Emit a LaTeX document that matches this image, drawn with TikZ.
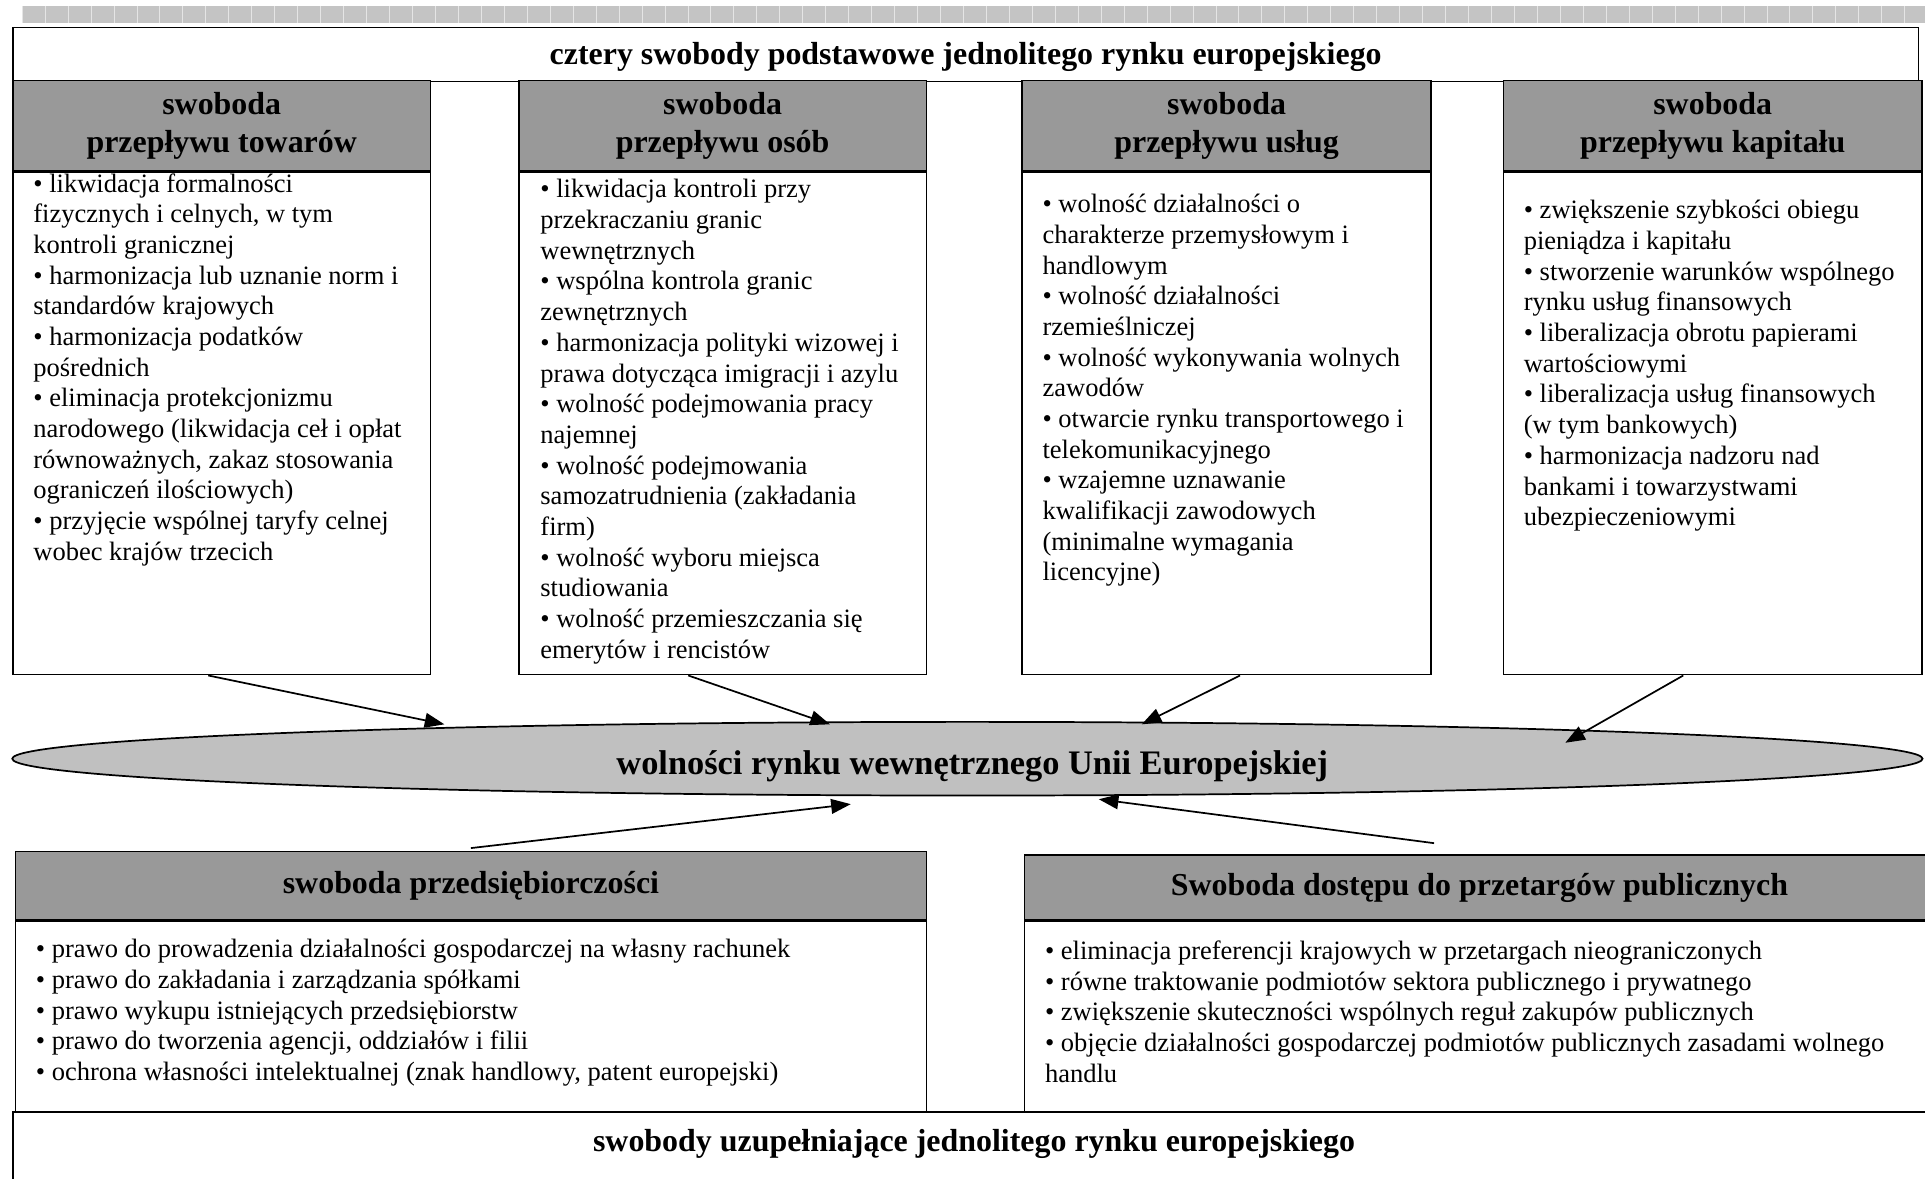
\documentclass[tikz,border=0pt]{standalone}
\usepackage{fontspec}
\setmainfont{Liberation Serif}
\usepackage{tikz}
\usetikzlibrary{positioning, arrows.meta, shapes.geometric}

\definecolor{headgray}{HTML}{999999}
\definecolor{ovalgray}{HTML}{C0C0C0}
\definecolor{rulergray}{HTML}{C4C4C4}
\newcommand{\listfont}{\fontsize{21.6}{25}\selectfont}
\newcommand{\headfont}{\fontsize{26}{31}\selectfont\bfseries}
\newcommand{\ovalfont}{\fontsize{28}{32}\selectfont\bfseries}

\tikzset{
  head/.style={draw, line width=1.2pt, fill=headgray, font=\headfont, align=center, inner sep=0pt},
  box/.style={draw, line width=1.2pt, fill=white, inner sep=0pt},
  list/.style={anchor=north west, align=left, font=\listfont, inner sep=0pt},
  link/.style={line width=1.4pt, -{Triangle[length=16pt,width=12pt]}}
}

\begin{document}
\begin{tikzpicture}[x=1pt, y=-1pt]
\useasboundingbox (0,0) rectangle (1568,960);
%ruler strip
\fill[rulergray] (18,5) rectangle (1568,19);
\foreach \i in {0,...,83}
  \draw[gray!20, line width=0.6pt] (18+\i*18.7,5) -- (18+\i*18.7,19);

\node[box, anchor=north west, minimum width=1552, minimum height=44] (podst) at (10,22) {};
\node[font=\headfont, inner sep=0pt] (podstText) at ([yshift=-2pt]podst.center) {cztery swobody podstawowe jednolitego rynku europejskiego};

%four columns
\node[box, anchor=north west, minimum width=340, minimum height=409] (towary) at (10,140) {};
\node[list] (towaryList) at (27,141) {• likwidacja formalności\\
fizycznych i celnych, w tym\\
kontroli granicznej\\
• harmonizacja lub uznanie norm i\\
standardów krajowych\\
• harmonizacja podatków\\
pośrednich\\
• eliminacja protekcjonizmu\\
narodowego (likwidacja ceł i opłat\\
równoważnych, zakaz stosowania\\
ograniczeń ilościowych)\\
• przyjęcie wspólnej taryfy celnej\\
wobec krajów trzecich};
\node[head, minimum width=340, minimum height=74, above=0pt of towary] (towaryHead) {swoboda\\przepływu towarów};

\node[box, anchor=north west, minimum width=332, minimum height=409] (osoby) at (422,140) {};
\node[list] (osobyList) at (440,146) {• likwidacja kontroli przy\\
przekraczaniu granic\\
wewnętrznych\\
• wspólna kontrola granic\\
zewnętrznych\\
• harmonizacja polityki wizowej i\\
prawa dotycząca imigracji i azylu\\
• wolność podejmowania pracy\\
najemnej\\
• wolność podejmowania\\
samozatrudnienia (zakładania\\
firm)\\
• wolność wyboru miejsca\\
studiowania\\
• wolność przemieszczania się\\
emerytów i rencistów};
\node[head, minimum width=332, minimum height=74, above=0pt of osoby] (osobyHead) {swoboda\\przepływu osób};

\node[box, anchor=north west, minimum width=333, minimum height=409] (uslugi) at (832,140) {};
\node[list] (uslugiList) at (849,158) {• wolność działalności o\\
charakterze przemysłowym i\\
handlowym\\
• wolność działalności\\
rzemieślniczej\\
• wolność wykonywania wolnych\\
zawodów\\
• otwarcie rynku transportowego i\\
telekomunikacyjnego\\
• wzajemne uznawanie\\
kwalifikacji zawodowych\\
(minimalne wymagania\\
licencyjne)};
\node[head, minimum width=333, minimum height=74, above=0pt of uslugi] (uslugiHead) {swoboda\\przepływu usług};

\node[box, anchor=north west, minimum width=341, minimum height=409] (kapital) at (1224,140) {};
\node[list] (kapitalList) at (1241,163) {• zwiększenie szybkości obiegu\\
pieniądza i kapitału\\
• stworzenie warunków wspólnego\\
rynku usług finansowych\\
• liberalizacja obrotu papierami\\
wartościowymi\\
• liberalizacja usług finansowych\\
(w tym bankowych)\\
• harmonizacja nadzoru nad\\
bankami i towarzystwami\\
ubezpieczeniowymi};
\node[head, minimum width=341, minimum height=74, above=0pt of kapital] (kapitalHead) {swoboda\\przepływu kapitału};

%centre
\node[ellipse, draw, line width=1.4pt, fill=ovalgray, minimum width=1556, minimum height=60, inner sep=0pt] (rynek) at (788,618) {};
\node[font=\ovalfont, inner sep=0pt] (rynekText) at ([xshift=4pt,yshift=-6pt]rynek.center) {wolności rynku wewnętrznego Unii Europejskiej};

%bottom
\node[box, anchor=north west, minimum width=742, minimum height=155] (przeds) at (12,750) {};
\node[list] (przedsList) at (29,765) {• prawo do prowadzenia działalności gospodarczej na własny rachunek\\
• prawo do zakładania i zarządzania spółkami\\
• prawo wykupu istniejących przedsiębiorstw\\
• prawo do tworzenia agencji, oddziałów i filii\\
• ochrona własności intelektualnej (znak handlowy, patent europejski)};
\node[head, minimum width=742, minimum height=56, above=0pt of przeds] (przedsHead) {swoboda przedsiębiorczości};

\node[box, anchor=north west, minimum width=741, minimum height=155] (dostep) at (834,750) {};
\node[list] (dostepList) at (851,766) {• eliminacja preferencji krajowych w przetargach nieograniczonych\\
• równe traktowanie podmiotów sektora publicznego i prywatnego\\
• zwiększenie skuteczności wspólnych reguł zakupów publicznych\\
• objęcie działalności gospodarczej podmiotów publicznych zasadami wolnego\\
handlu};
\node[head, minimum width=741, minimum height=53, above=0pt of dostep] (dostepHead) {Swoboda dostępu do przetargów publicznych};

\node[box, anchor=north west, minimum width=1565, minimum height=70, line width=1.8pt] (uzup) at (10,905) {};
\node[font=\headfont, inner sep=0pt, below=15pt of uzup.north] (uzupText) {swobody uzupełniające jednolitego rynku europejskiego};

%arrows
\coordinate (t1) at (362,590);
\coordinate (t2) at (676,590);
\coordinate (t3) at (930,590);
\coordinate (t4) at (1275,605);
\coordinate (t5) at (693,655);
\coordinate (t6) at (895,651);
\draw[link] ([xshift=-11pt]towary.south) -- (t1);
\draw[link] ([xshift=-28pt]osoby.south) -- (t2);
\draw[link] ([xshift=11pt]uslugi.south) -- (t3);
\draw[link] ([xshift=-24pt]kapital.south) -- (t4);
\draw[link] ([yshift=2pt]przedsHead.north) -- (t5);
\draw[link] ([xshift=-37pt,yshift=9pt]dostepHead.north) -- (t6);
\end{tikzpicture}
\end{document}
